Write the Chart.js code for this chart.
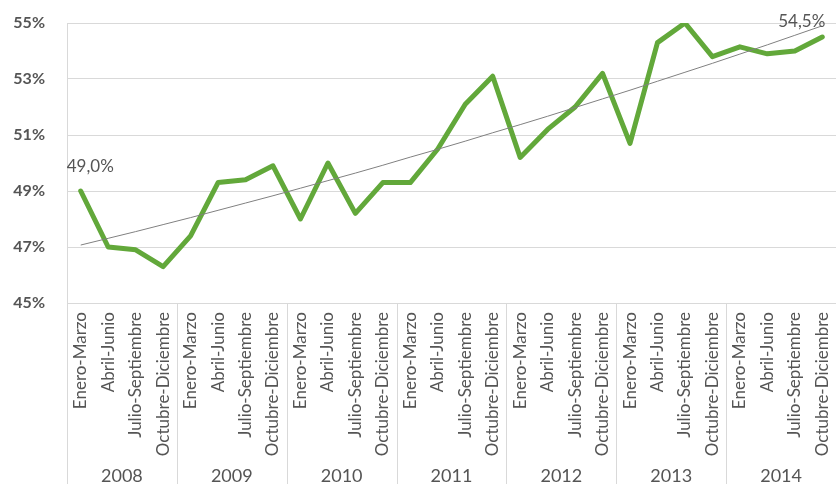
<!DOCTYPE html>
<html>
<head>
<meta charset="utf-8">
<script src="https://cdn.jsdelivr.net/npm/chart.js@4/dist/chart.umd.min.js"></script>
<style>
  html, body { margin: 0; padding: 0; background: #fff; }
  #wrap { width: 836px; height: 484px; }
</style>
</head>
<body>
<div id="wrap"><canvas id="chart"></canvas></div>
<script>
  var QUARTERS = ["Enero-Marzo", "Abril-Junio", "Julio-Septiembre", "Octubre-Diciembre"];
  var YEARS = ["2008", "2009", "2010", "2011", "2012", "2013", "2014"];

  // tasa por trimestre, 2008 T1 .. 2014 T4
  var RATE = [
    49.0, 47.0, 46.9, 46.3,
    47.4, 49.3, 49.4, 49.9,
    48.0, 50.0, 48.2, 49.3,
    49.3, 50.5, 52.1, 53.1,
    50.2, 51.2, 52.0, 53.2,
    50.7, 54.3, 55.0, 53.8,
    54.15, 53.9, 54.0, 54.5
  ];

  var TREND = [
    47.07, 47.31, 47.55, 47.80,
    48.05, 48.31, 48.57, 48.83,
    49.10, 49.37, 49.64, 49.92,
    50.21, 50.49, 50.78, 51.08,
    51.37, 51.67, 51.98, 52.29,
    52.60, 52.92, 53.24, 53.56,
    53.89, 54.22, 54.56, 54.90
  ];

  var Y_MIN = 45, Y_MAX = 55, Y_STEP = 2;

  var TEXT = "#555555";
  var GRID = "#d9d9d9";
  var GREEN = "rgb(98, 168, 58)";
  var FONT = "Lato, 'Open Sans', sans-serif";

  var labels = [];
  YEARS.forEach(function () {
    QUARTERS.forEach(function (q) { labels.push(q); });
  });

  function fmt(v) {
    return v.toFixed(1).replace(".", ",") + "%";
  }

  var yearBands = {
    id: "yearBands",
    afterDraw: function (chart) {
      var ctx = chart.ctx;
      var x = chart.scales.x;
      var area = chart.chartArea;
      var step = x.getPixelForValue(1) - x.getPixelForValue(0);
      ctx.save();
      ctx.strokeStyle = GRID;
      ctx.lineWidth = 1;
      for (var g = 0; g <= YEARS.length; g++) {
        var px = g === 0
          ? x.getPixelForValue(0) - step / 2
          : x.getPixelForValue(g * QUARTERS.length - 1) + step / 2;
        px = Math.round(px) + 0.5;
        ctx.beginPath();
        ctx.moveTo(px, area.bottom);
        ctx.lineTo(px, chart.height);
        ctx.stroke();
      }
      ctx.fillStyle = TEXT;
      ctx.font = "18px " + FONT;
      ctx.textAlign = "center";
      ctx.textBaseline = "middle";
      YEARS.forEach(function (yr, g) {
        var a = x.getPixelForValue(g * 4);
        var b = x.getPixelForValue(g * 4 + 3);
        ctx.fillText(yr, (a + b) / 2, area.bottom + 173);
      });
      ctx.restore();
    }
  };

  var endLabels = {
    id: "endLabels",
    afterDatasetsDraw: function (chart) {
      var ctx = chart.ctx;
      var pts = chart.getDatasetMeta(1).data;
      var first = pts[0], last = pts[pts.length - 1];
      ctx.save();
      ctx.fillStyle = TEXT;
      ctx.font = "17px " + FONT;
      ctx.textBaseline = "middle";
      ctx.textAlign = "left";
      ctx.fillText(fmt(RATE[0]), first.x - 14, first.y - 24);
      ctx.textAlign = "right";
      ctx.fillText(fmt(RATE[RATE.length - 1]), last.x + 3, last.y - 15);
      ctx.restore();
    }
  };

  Chart.defaults.font.family = FONT;
  Chart.defaults.color = TEXT;

  new Chart(document.getElementById("chart"), {
    type: "line",
    data: {
      labels: labels,
      datasets: [
        {
          label: "Tendencia",
          data: TREND,
          borderColor: "rgb(128, 128, 128)",
          borderWidth: 1,
          pointRadius: 0,
          tension: 0,
          order: 0
        },
        {
          label: "Tasa",
          data: RATE,
          borderColor: GREEN,
          borderWidth: 5,
          pointRadius: 0,
          tension: 0,
          borderJoinStyle: "round",
          borderCapStyle: "round",
          order: 1
        }
      ]
    },
    options: {
      responsive: true,
      maintainAspectRatio: false,
      animation: false,
      layout: { padding: { top: 23, right: 0, left: 0, bottom: 0 } },
      plugins: {
        legend: { display: false },
        tooltip: { enabled: false }
      },
      scales: {
        x: {
          offset: true,
          grid: { display: false, drawTicks: false },
          border: { display: false },
          ticks: {
            autoSkip: false,
            minRotation: 90,
            maxRotation: 90,
            padding: 9,
            color: TEXT,
            font: { size: 17 }
          },
          afterFit: function (s) {
            s.height = 181;
            s.paddingLeft = 0;
            s.paddingRight = 0;
          }
        },
        y: {
          min: Y_MIN,
          max: Y_MAX,
          grid: { color: GRID, drawTicks: false },
          border: { display: true, color: GRID },
          ticks: {
            stepSize: Y_STEP,
            padding: 22,
            color: TEXT,
            font: { size: 16, weight: "bold" },
            callback: function (v) { return v + "%"; }
          },
          afterFit: function (s) {
            s.width = 67;
            s.paddingTop = 0;
            s.paddingBottom = 0;
          }
        }
      }
    },
    plugins: [yearBands, endLabels]
  });
</script>
</body>
</html>
